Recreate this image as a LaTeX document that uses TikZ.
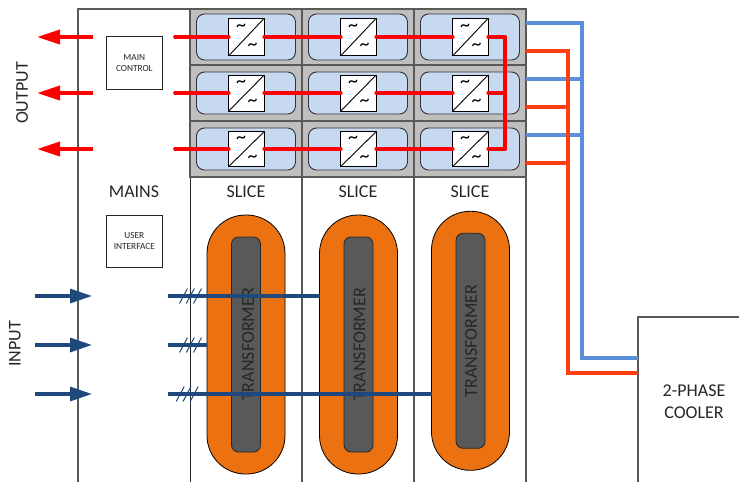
\documentclass[tikz,border=0pt]{standalone}
\usepackage{fontspec}
\setmainfont{Carlito}
\usetikzlibrary{arrows.meta,calc}
\definecolor{frameC}{HTML}{595959}
\definecolor{cellC}{HTML}{BFBFBF}
\definecolor{paleC}{HTML}{C6D9F1}
\definecolor{coilC}{HTML}{EC7211}
\definecolor{coreC}{HTML}{595959}
\definecolor{feedC}{HTML}{1F497D}
\definecolor{coldC}{HTML}{5B8FDB}
\definecolor{hotC}{HTML}{FF3F0F}
\definecolor{inkC}{HTML}{262626}
\tikzset{
  lbl/.style={font=\fontsize{18}{22}\selectfont,text=inkC,inner sep=0pt,align=center},
  small/.style={font=\fontsize{9.3}{11}\selectfont,text=inkC,inner sep=0pt,align=center},
  ctlbox/.style={draw=black!85,line width=0.9pt,fill=white,minimum width=56.5pt,minimum height=52.5pt,small},
  cell/.style={draw=frameC,line width=1.2pt,fill=cellC,minimum width=112pt,minimum height=56pt,inner sep=0pt,outer sep=0pt},
  module/.style={draw=black!80,line width=0.9pt,fill=paleC,rounded corners=8pt,minimum width=99pt,minimum height=#1,inner sep=0pt,outer sep=0pt},
  conv/.style={draw=black,line width=0.9pt,fill=white,minimum width=35.5pt,minimum height=#1,inner sep=0pt,outer sep=0pt},
  coil/.style={draw=black,line width=0.8pt,fill=coilC,rounded corners=38.5pt,minimum width=78pt,minimum height=259pt,inner sep=0pt,outer sep=0pt},
  core/.style={draw=black!85,line width=0.8pt,fill=coreC,rounded corners=7pt,minimum width=29pt,minimum height=215pt,inner sep=0pt,outer sep=0pt},
  redline/.style={draw=red,line width=3.6pt,line cap=round},
  redarrow/.style={draw=red,line width=3.6pt,-{Triangle[length=23pt,width=14pt]}},
  feed/.style={draw=feedC,line width=3.3pt},
  feedarrow/.style={draw=feedC,line width=3.3pt,-{Triangle[length=22pt,width=14pt]}},
  tick/.style={draw=feedC,line width=1pt},
  cold/.style={draw=coldC,line width=3.5pt},
  hot/.style={draw=hotC,line width=3.5pt},
  tildes/.style={font=\fontsize{20}{20}\selectfont,inner sep=0pt,text=black},
}
\begin{document}
\begin{tikzpicture}[x=1pt,y=-1pt]
\useasboundingbox (0,0) rectangle (739,482);
% frame
\draw[frameC,line width=1.1pt] (78,482) -- (78,9) -- (190,9);
\draw[black!85,line width=1pt] (190,177) -- (190,482);
\draw[frameC,line width=1.2pt] (302,177) -- (302,482) (414,177) -- (414,482) (526,177) -- (526,482);
% grey cells, modules, converters
\foreach \c/\cx in {1/246,2/358,3/470}{
  \foreach \r/\cy/\my/\mh/\ch in {1/37/37/46pt/37.5pt,2/93/93/42pt/36pt,3/149/149/42pt/35pt}{
    \node[cell] (cell\c\r) at (\cx,\cy) {};
    \node[module=\mh] (mod\c\r) at (\cx,\my) {};
    \node[conv=\ch] (conv\c\r) at (\cx+.5,\my) {};
    \draw[black,line width=0.9pt] (conv\c\r.south west) -- (conv\c\r.north east);
    \node[tildes] (tu\c\r) at ($(conv\c\r.center)+(-5.5,-9)$) {\char`\~};
    \node[tildes] (td\c\r) at ($(conv\c\r.center)+(6,10)$) {\char`\~};
  }
}
% labels of the columns
\node[lbl] (mains) at (134,191.8) {MAINS};
\foreach \c/\cx in {1/246,2/358,3/470}{
  \node[lbl] (slice\c) at (\cx,191.8) {SLICE};
}
% control boxes
\node[ctlbox] (ctl) at (134.3,63) {MAIN\\CONTROL};
\node[ctlbox] (ui) at (134.3,241.5) {USER\\INTERFACE};
% transformers
\foreach \c/\cx/\cy/\tx in {1/246/344.5/248,2/358.5/344.5/359.5,3/470.5/340.8/471}{
  \node[coil] (coil\c) at (\cx,\cy) {};
  \node[core] (core\c) at (\cx,\cy) {};
  \node[lbl,rotate=90] (tf\c) at (\tx,\cy) {TRANSFORMER};
}
% output arrows
\foreach \r/\y in {1/37,2/93,3/149}{
  \coordinate (out\r) at (37,\y);
  \coordinate (outs\r) at (93,\y);
  \coordinate (rs\r) at (175,\y);
  \coordinate (re\r) at (505,\y);
  \draw[redarrow] (outs\r) -- (out\r);
  \draw[redline] (rs\r) -- (conv1\r.west);
  \draw[redline] (conv1\r.east) -- (conv2\r.west);
  \draw[redline] (conv2\r.east) -- (conv3\r.west);
  \draw[redline] (conv3\r.east) -- (re\r);
}
\draw[redline] (re1) -- (re3);
% cooler
\node[lbl] (cooler) at (694,401.5) {2-PHASE\\COOLER};
\draw[frameC,line width=1.1pt] (739,317) -- (638,317) -- (638,482);
\coordinate (coldtop) at (582,23);
\coordinate (coldbot) at (582,358);
\coordinate (coldin) at (638,358);
\coordinate (hottop) at (568,51);
\coordinate (hotbot) at (568,373);
\coordinate (hotin) at (638,373);
\draw[cold] (526,23) -- (coldtop) -- (coldbot) -- (coldin);
\draw[cold] (526,79) -- (582,79);
\draw[cold] (526,135) -- (582,135);
\draw[hot] (526,51) -- (hottop) -- (hotbot) -- (hotin);
\draw[hot] (526,107) -- (568,107);
\draw[hot] (526,163) -- (568,163);
% input arrows and feeds
\foreach \r/\y in {1/296,2/345,3/394}{
  \coordinate (ins\r) at (35,\y);
  \coordinate (ine\r) at (92,\y);
  \coordinate (fs\r) at (168,\y);
  \draw[feedarrow] (ins\r) -- (ine\r);
}
\draw[feed] (fs1) -- (coil2.west |- fs1);
\draw[feed] (fs2) -- (coil1.west |- fs2);
\draw[feed] (fs3) -- (coil3.west |- fs3);
\foreach \r/\y/\d in {1/296/0,2/345/0,3/394/-3.3}{
  \foreach \o in {179.5,186.3,193.5}{
    \draw[tick] (\o+\d,\y+7.5) -- (\o+\d+8,\y-7.5);
  }
}
% side labels
\node[lbl,rotate=90] (outlbl) at (22,93) {OUTPUT};
\node[lbl,rotate=90] (inlbl) at (15,344) {INPUT};
\end{tikzpicture}
\end{document}
